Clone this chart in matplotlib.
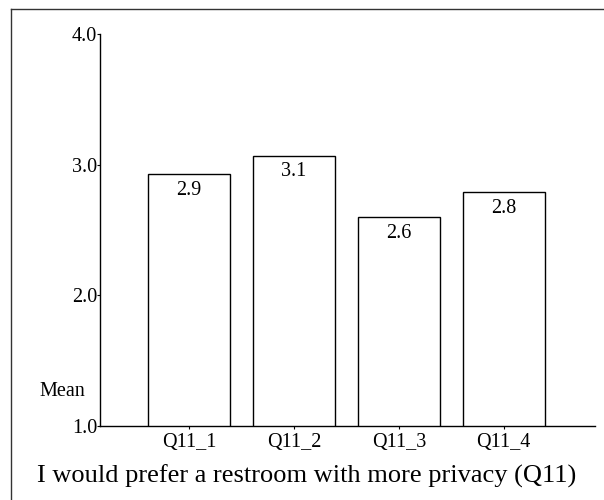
import matplotlib
matplotlib.use("Agg")
import matplotlib.pyplot as plt
from matplotlib.lines import Line2D

categories = ["Q11_1", "Q11_2", "Q11_3", "Q11_4"]
means = [2.93, 3.07, 2.60, 2.79]
yticks = [1.0, 2.0, 3.0, 4.0]
title = "I would prefer a restroom with more privacy (Q11)"

plt.rcParams["font.family"] = ["Liberation Serif", "DejaVu Serif"]

fig = plt.figure(figsize=(6.04, 5.0), dpi=100)
ax = fig.add_axes([100/604, 1-426/500, 495/604, 392/500])

x = list(range(len(categories)))
ax.bar(x, means, width=0.78, bottom=0, color="white", edgecolor="black", linewidth=1.0)
for xi, v in zip(x, means):
    ax.annotate(f"{v:.1f}", (xi, v), xytext=(0, -5), textcoords="offset points",
                ha="center", va="top", fontsize=14.5)

ax.set_xlim(-0.85, 3.87)
ax.set_ylim(1.0, 4.0)
ax.set_yticks(yticks)
ax.set_yticklabels([f"{t:.1f}" for t in yticks])
ax.set_xticks(x)
ax.set_xticklabels(categories)
ax.tick_params(axis="y", length=2, width=0.8, pad=0, labelsize=14.5)
ax.tick_params(axis="x", length=2, width=0.8, pad=3, labelsize=14.5)
for s in ["top", "right"]:
    ax.spines[s].set_visible(False)
for s in ["left", "bottom"]:
    ax.spines[s].set_linewidth(1.0)

fig.text(85/604, 1-396/500, "Mean", ha="right", va="baseline", fontsize=14.5)
fig.text(307/604, 1-483/500, title, ha="center", va="baseline", fontsize=19)

# outer frame (top and left only)
fig.add_artist(Line2D([11/604, 11/604], [0, 1-9/500], color="#333333", lw=1.0))
fig.add_artist(Line2D([11/604, 1], [1-9/500, 1-9/500], color="#333333", lw=1.0))

fig.savefig("out.png", dpi=100)
